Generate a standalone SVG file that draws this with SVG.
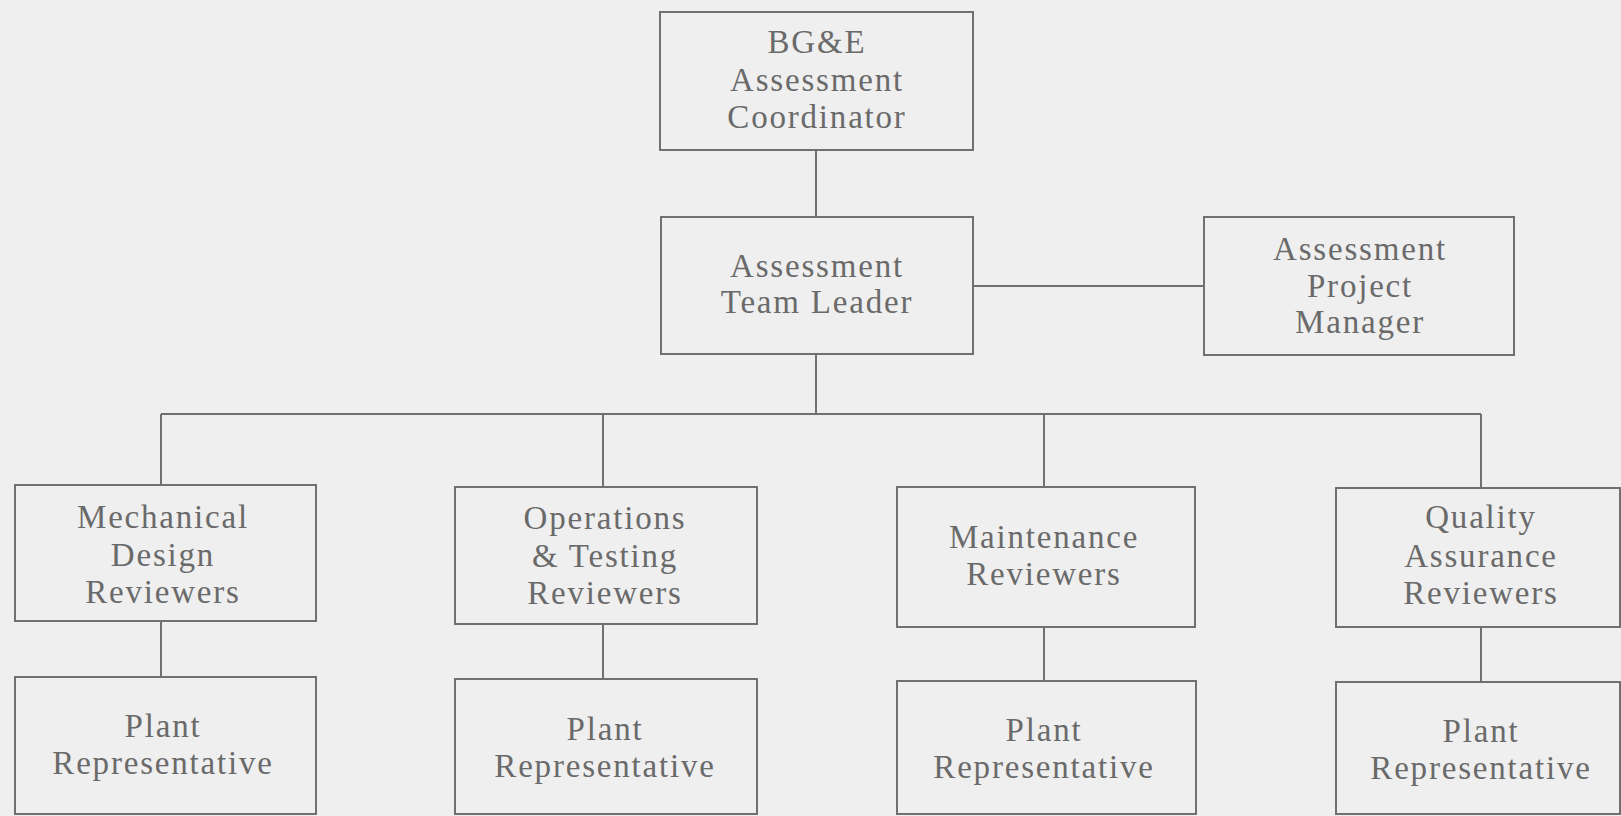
<svg xmlns="http://www.w3.org/2000/svg" width="1621" height="816" viewBox="0 0 1621 816">
<style>
.box{fill:none;stroke:#707070;stroke-width:2}
.ln{fill:none;stroke:#707070;stroke-width:2}
.t{font-family:'Liberation Serif','DejaVu Serif',serif;font-size:33px;fill:#6a6a6a;text-anchor:middle;letter-spacing:1.8px}
</style>
<rect x="0" y="0" width="1621" height="816" fill="#efefef"/>
<g id="connectors">
<line class="ln" x1="816" y1="150" x2="816" y2="217"/>
<line class="ln" x1="973" y1="286" x2="1204" y2="286"/>
<line class="ln" x1="816" y1="354" x2="816" y2="414"/>
<line class="ln" x1="161" y1="414" x2="1481" y2="414"/>
<line class="ln" x1="161" y1="414" x2="161" y2="485"/>
<line class="ln" x1="603" y1="414" x2="603" y2="487"/>
<line class="ln" x1="1044" y1="414" x2="1044" y2="487"/>
<line class="ln" x1="1481" y1="414" x2="1481" y2="488"/>
<line class="ln" x1="161" y1="621" x2="161" y2="677"/>
<line class="ln" x1="603" y1="624" x2="603" y2="679"/>
<line class="ln" x1="1044" y1="627" x2="1044" y2="681"/>
<line class="ln" x1="1481" y1="627" x2="1481" y2="682"/>
</g>
<g id="coordinator">
<rect class="box" x="660" y="12" width="313" height="138"/>
<text class="t" x="817" y="53">BG&amp;E</text>
<text class="t" x="817" y="91">Assessment</text>
<text class="t" x="817" y="128">Coordinator</text>
</g>
<g id="team-leader">
<rect class="box" x="661" y="217" width="312" height="137"/>
<text class="t" x="817" y="277">Assessment</text>
<text class="t" x="817" y="313">Team Leader</text>
</g>
<g id="project-manager">
<rect class="box" x="1204" y="217" width="310" height="138"/>
<text class="t" x="1360" y="260">Assessment</text>
<text class="t" x="1360" y="297">Project</text>
<text class="t" x="1360" y="333">Manager</text>
</g>
<g id="mechanical">
<rect class="box" x="15" y="485" width="301" height="136"/>
<text class="t" x="163" y="528">Mechanical</text>
<text class="t" x="163" y="566">Design</text>
<text class="t" x="163" y="603">Reviewers</text>
</g>
<g id="operations">
<rect class="box" x="455" y="487" width="302" height="137"/>
<text class="t" x="605" y="529">Operations</text>
<text class="t" x="605" y="567">&amp; Testing</text>
<text class="t" x="605" y="604">Reviewers</text>
</g>
<g id="maintenance">
<rect class="box" x="897" y="487" width="298" height="140"/>
<text class="t" x="1044" y="548">Maintenance</text>
<text class="t" x="1044" y="585">Reviewers</text>
</g>
<g id="quality">
<rect class="box" x="1336" y="488" width="284" height="139"/>
<text class="t" x="1481" y="528">Quality</text>
<text class="t" x="1481" y="567">Assurance</text>
<text class="t" x="1481" y="604">Reviewers</text>
</g>
<g id="plant-1">
<rect class="box" x="15" y="677" width="301" height="137"/>
<text class="t" x="163" y="737">Plant</text>
<text class="t" x="163" y="774">Representative</text>
</g>
<g id="plant-2">
<rect class="box" x="455" y="679" width="302" height="135"/>
<text class="t" x="605" y="740">Plant</text>
<text class="t" x="605" y="777">Representative</text>
</g>
<g id="plant-3">
<rect class="box" x="897" y="681" width="299" height="133"/>
<text class="t" x="1044" y="741">Plant</text>
<text class="t" x="1044" y="778">Representative</text>
</g>
<g id="plant-4">
<rect class="box" x="1336" y="682" width="284" height="132"/>
<text class="t" x="1481" y="742">Plant</text>
<text class="t" x="1481" y="779">Representative</text>
</g>
</svg>
